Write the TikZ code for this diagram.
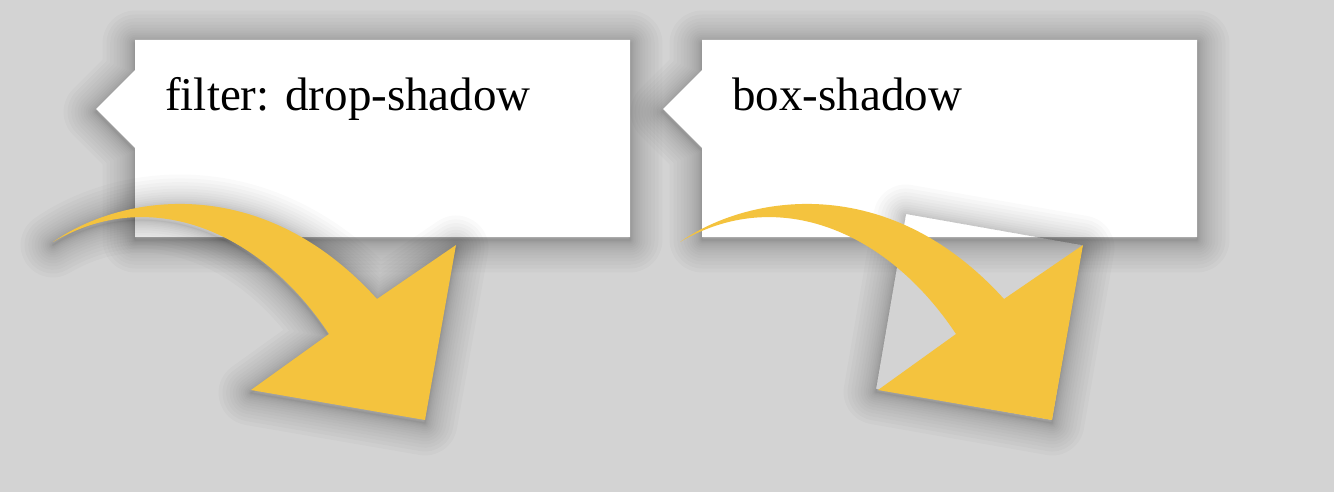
\documentclass[tikz,border=0pt]{standalone}
\usepackage{fontspec}
\setmainfont{Liberation Serif}
\definecolor{pagegray}{HTML}{D3D3D3}
\definecolor{arrowyellow}{HTML}{F4C33E}
\tikzset{
  every picture/.style={line join=round, line cap=round},
  card/.style={fill=white},
  bentarrow/.style={fill=arrowyellow},
  shadowlayer/.style={draw=black, draw opacity=0.021},
  cardtext/.style={inner sep=0pt, anchor=base west, font=\fontsize{35.25}{42}\selectfont},
}
% outlines, in pixels of the screenshot (y grows downwards)
\newcommand\cardoutline{(135,40) -- (630,40) -- (630,237) -- (135,237) -- (135,148) -- (96,109) -- (135,70) -- cycle}
\newcommand\arrowoutline{(53,242) .. controls (120,195) and (260,170) .. (377,299) -- (456,245) -- (425,420) -- (251,390) -- (329,334) .. controls (260,230) and (150,185) .. (53,242) -- cycle}
\newcommand\softshadow[1]{\foreach \k in {1,...,16}{\draw[shadowlayer, line width=\k*\k*0.19pt] #1;}}

\begin{document}
\begin{tikzpicture}[x=0.75pt, y=-0.75pt]
\useasboundingbox (0,0) rectangle (1334,492);
\fill[pagegray] (0,0) rectangle (1334,492);
\begin{scope}[shift={(0,3)}] \softshadow{\cardoutline} \end{scope}
\fill[card] \cardoutline;
\begin{scope}[shift={(567,0)}]
  \begin{scope}[shift={(0,3)}] \softshadow{\cardoutline} \end{scope}
  \fill[card] \cardoutline;
\end{scope}
\node[cardtext] (filterlabel) at (165,110) {filter: drop-shadow};
\node[cardtext] (boxlabel) at (732,110) {box-shadow};
% drop-shadow: follows the arrow itself
\begin{scope}[shift={(0,3)}] \softshadow{\arrowoutline} \end{scope}
\fill[bentarrow] \arrowoutline;
% box-shadow: only round the tilted square of the picture
\begin{scope}[shift={(627,0)}]
  \begin{scope}
    \clip (-700,-100) -- (800,-100) -- (800,600) -- (-700,600) -- cycle
      (279,214) -- (249,389) -- (425,420) -- (455,245) -- cycle;
    \begin{scope}[shift={(0,3)}] \softshadow{(279,214) -- (455,245) -- (425,420) -- (249,389) -- cycle} \end{scope}
  \end{scope}
  \fill[bentarrow] \arrowoutline;
\end{scope}
\end{tikzpicture}
\end{document}
